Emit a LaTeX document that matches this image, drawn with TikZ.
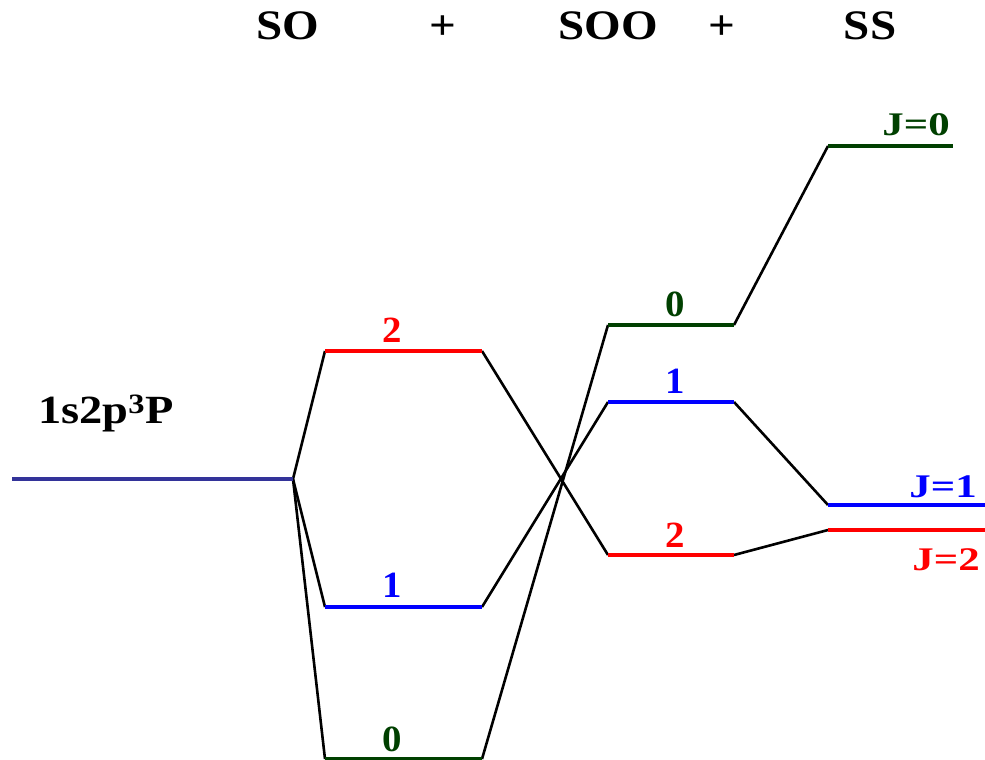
\documentclass[tikz,border=0pt]{standalone}
\usepackage{fontspec}
\setmainfont{Liberation Serif}[BoldFont={Liberation Serif Bold}]
\definecolor{navy}{RGB}{51,51,153}
\definecolor{dkgreen}{RGB}{0,64,0}
\begin{document}
\begin{tikzpicture}[x=1pt,y=-1pt,
  lvl/.style={line width=3.8pt},
  conn/.style={line width=2.6pt,black,line join=round},
  hdr/.style={font=\fontsize{42}{42}\selectfont\bfseries,anchor=base,xscale=1.12,inner sep=0pt},
  dig/.style={font=\fontsize{37}{37}\selectfont\bfseries,anchor=base,xscale=1.05,inner sep=0pt},
  jlab/.style={font=\fontsize{33}{33}\selectfont\bfseries,anchor=base east,xscale=1.3,inner sep=0pt},
  big/.style={font=\fontsize{40}{40}\selectfont\bfseries,anchor=base west,xscale=1.16,inner sep=0pt}]
\useasboundingbox (0,0) rectangle (985,760);
% headers
\node[hdr] (hso) at (288,40) {SO};
\node[hdr] (hp1) at (443,40) {+};
\node[hdr] (hsoo) at (608,40) {SOO};
\node[hdr] (hp2) at (722,40) {+};
\node[hdr] (hss) at (870,40) {SS};
% coordinates
\coordinate (pL) at (12,479);
\coordinate (pR) at (293,479);
\coordinate (a2l) at (325,351); \coordinate (a2r) at (482,351);
\coordinate (a1l) at (325,607); \coordinate (a1r) at (482,607);
\coordinate (a0l) at (325,759); \coordinate (a0r) at (482,759);
\coordinate (b0l) at (608,325); \coordinate (b0r) at (734,325);
\coordinate (b1l) at (608,402); \coordinate (b1r) at (734,402);
\coordinate (b2l) at (608,555); \coordinate (b2r) at (734,555);
\coordinate (c0l) at (828,146); \coordinate (c0r) at (953,146);
\coordinate (c1l) at (828,505); \coordinate (c1r) at (985,505);
\coordinate (c2l) at (828,530); \coordinate (c2r) at (985,530);
% connectors
\draw[conn] (a2l) -- (pR) -- (a1l);
\draw[conn] (pR) -- (a0l);
\draw[conn] (a2r) -- (b2l);
\draw[conn] (a1r) -- (b1l);
\draw[conn] (a0r) -- (b0l);
\draw[conn] (b0r) -- (c0l);
\draw[conn] (b1r) -- (c1l);
\draw[conn] (b2r) -- (c2l);
% levels
\draw[lvl,navy] (pL) -- (pR);
\draw[lvl,red] (a2l) -- (a2r);
\draw[lvl,blue] (a1l) -- (a1r);
\draw[lvl,dkgreen] (a0l) -- (a0r);
\draw[lvl,dkgreen] (b0l) -- (b0r);
\draw[lvl,blue] (b1l) -- (b1r);
\draw[lvl,red] (b2l) -- (b2r);
\draw[lvl,dkgreen] (c0l) -- (c0r);
\draw[lvl,blue] (c1l) -- (c1r);
\draw[lvl,red] (c2l) -- (c2r);
% labels
\node[big] (lab) at (38,423) {1s2p\textsuperscript{3}P};
\node[dig,red] (l2a) at (392,342) {2};
\node[dig,blue] (l1a) at (392,597) {1};
\node[dig,dkgreen] (l0a) at (392,751) {0};
\node[dig,dkgreen] (l0b) at (675,316) {0};
\node[dig,blue] (l1b) at (675,393) {1};
\node[dig,red] (l2b) at (675,547) {2};
\node[jlab,dkgreen] (j0) at (950,135) {J=0};
\node[jlab,blue] (j1) at (977,497) {J=1};
\node[jlab,red] (j2) at (980,570) {J=2};
\end{tikzpicture}
\end{document}
